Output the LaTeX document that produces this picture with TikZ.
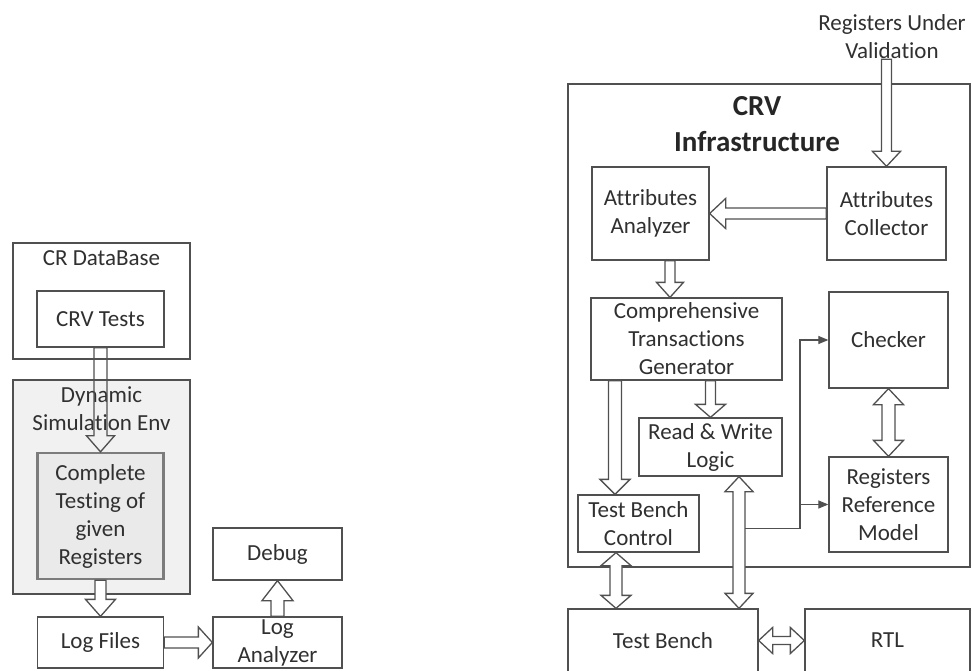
\documentclass[tikz,border=0pt]{standalone}
\usepackage{fontspec}
\setmainfont{Carlito}[Ligatures={NoCommon}]
\usetikzlibrary{calc,arrows.meta}

\definecolor{edge}{HTML}{505050}
\definecolor{ink}{HTML}{303030}
\definecolor{envfill}{HTML}{F1F1F1}
\definecolor{testfill}{HTML}{EAEAEA}
\definecolor{testedge}{HTML}{7C7C7C}

\tikzset{
  txt/.style={inner sep=0pt, align=center, text=ink, font=\fontsize{23}{28}\selectfont},
  box/.style={txt, draw=edge, line width=1.3pt, fill=white},
  blk/.style={draw=edge, line width=1.3pt, fill=white, line join=miter},
  conn/.style={draw=edge, line width=1.2pt},
  tip/.style={-{Triangle[length=10pt,width=8pt]}}
}

% hollow block arrow: [opts]{from}{to}{half shaft}{half head}{head length}
\newcommand\blockarrow[6][]{%
  \path ($(#3)!#6!(#2)$) coordinate (bah);
  \draw[blk,#1] ($(#2)!#4!90:(#3)$) -- ($(bah)!#4!90:(#3)$) -- ($(bah)!#5!90:(#3)$)
    -- (#3) -- ($(bah)!#5!-90:(#3)$) -- ($(bah)!#4!-90:(#3)$) -- ($(#2)!#4!-90:(#3)$) -- cycle;}

% hollow double-headed block arrow
\newcommand\blockdarrow[6][]{%
  \path ($(#2)!#6!(#3)$) coordinate (baa) ($(#3)!#6!(#2)$) coordinate (bab);
  \draw[blk,#1] (#2) -- ($(baa)!#5!90:(#3)$) -- ($(baa)!#4!90:(#3)$) -- ($(bab)!#4!90:(#3)$)
    -- ($(bab)!#5!90:(#3)$) -- (#3) -- ($(bab)!#5!-90:(#3)$) -- ($(bab)!#4!-90:(#3)$)
    -- ($(baa)!#4!-90:(#3)$) -- ($(baa)!#5!-90:(#3)$) -- cycle;}

\begin{document}
\begin{tikzpicture}[x=1pt, y=-1pt]
\useasboundingbox (0,0) rectangle (972,671);
\clip (0,0) rectangle (972,671);

% ---------- left flow ----------
\node[box, minimum width=177pt, minimum height=116pt] (crdb) at (101.5,301) {};
\node[txt] (crdbt) at (101.5,258) {CR DataBase};
\node[box, minimum width=127pt, minimum height=56pt] (crvt) at (100.5,319) {CRV Tests};

\node[box, fill=envfill, minimum width=177pt, minimum height=214pt] (dse) at (101.5,487) {};
\node[txt] (dset) at (101.5,409) {Dynamic\\Simulation Env};
\node[box, draw=testedge, line width=2.4pt, fill=testfill, minimum width=126pt, minimum height=126pt] (ctr) at (100.5,516) {Complete\\Testing of\\given\\Registers};

\node[box, minimum width=126pt, minimum height=51pt] (logf) at (100.5,642.5) {Log Files};
\node[box, minimum width=129pt, minimum height=51pt] (loga) at (277.5,642.5) {Log\\Analyzer};
\node[box, minimum width=129pt, minimum height=52pt] (dbg) at (277.5,554) {Debug};

\blockarrow[fill=none]{crvt.south}{ctr.north}{6.5pt}{14pt}{16pt}
\blockarrow{ctr.south}{logf.north}{5.5pt}{15pt}{17pt}
\blockarrow{logf.east}{loga.west}{5.5pt}{15.5pt}{14pt}
\blockarrow{loga.north}{dbg.south}{6.5pt}{15.5pt}{20pt}

% ---------- CRV infrastructure ----------
\node[txt] (ruv) at (892,36.5) {Registers Under\\Validation};
\node[box, minimum width=402pt, minimum height=483pt] (crvi) at (769,325.5) {};
\node[txt, font=\fontsize{29}{36}\selectfont\bfseries, text=black!85] (crvit) at (757,124) {CRV\\Infrastructure};

\node[box, minimum width=117pt, minimum height=93pt] (aan) at (650.5,213.5) {Attributes\\Analyzer};
\node[box, minimum width=119pt, minimum height=93pt] (aco) at (886.5,213.5) {Attributes\\Collector};
\node[box, minimum width=191pt, minimum height=82pt] (ctg) at (686.5,339) {Comprehensive\\Transactions\\Generator};
\node[box, minimum width=119pt, minimum height=96pt] (chk) at (888.5,340) {Checker};
\node[box, minimum width=119pt, minimum height=95pt] (rrm) at (888.5,504.5) {Registers\\Reference\\Model};
\node[box, minimum width=143pt, minimum height=58pt] (rwl) at (710.5,447) {Read \& Write\\Logic};
\node[box, minimum width=121pt, minimum height=57pt] (tbc) at (638.5,523.5) {Test Bench\\Control};

\node[box, minimum width=190pt, minimum height=63pt] (tb) at (663,640.5) {Test Bench};
\node[box, minimum width=165pt, minimum height=63pt] (rtl) at (887.5,640.5) {RTL};

% arrow anchor points
\coordinate (ruvin) at ($(aco.north)+(0,-107)$);
\coordinate (aanout) at ($(aan.south)+(19.5,0)$);
\coordinate (ctgin) at (aanout |- ctg.north);
\coordinate (ctgrw) at (rwl.north |- ctg.south);
\coordinate (tbcin) at ($(tbc.north)+(-23.5,0)$);
\coordinate (ctgtbc) at (tbcin |- ctg.south);
\coordinate (tbcout) at ($(tbc.south)+(-22.5,0)$);
\coordinate (tbin) at (tbcout |- tb.north);
\coordinate (rwb) at ($(rwl.south)+(28.5,0)$);
\coordinate (tbrw) at (rwb |- tb.north);

\blockarrow{ruvin}{aco.north}{5pt}{14pt}{15pt}
\blockarrow{aco.west}{aan.east}{5.5pt}{15pt}{16pt}
\blockarrow{aanout}{ctgin}{5pt}{13.5pt}{15pt}
\blockarrow{ctgrw}{rwl.north}{5pt}{15pt}{13pt}
\blockarrow{ctgtbc}{tbcin}{6.5pt}{15pt}{15pt}
\blockdarrow{chk.south}{rrm.north}{6.5pt}{15pt}{16pt}
\blockdarrow{rwb}{tbrw}{6pt}{14pt}{15pt}
\blockdarrow{tbcout}{tbin}{6pt}{15pt}{13pt}
\blockdarrow{tb.east}{rtl.west}{4pt}{13pt}{14pt}

% signal feed to checker and reference model
\coordinate (tap) at ($(rwb)+(6,52)$);
\coordinate (bus) at ($(tap)+(55,0)$);
\draw[conn, tip] (tap) -- (bus) |- (chk.west);
\draw[conn, tip] (bus |- rrm.west) -- (rrm.west);
\end{tikzpicture}
\end{document}
